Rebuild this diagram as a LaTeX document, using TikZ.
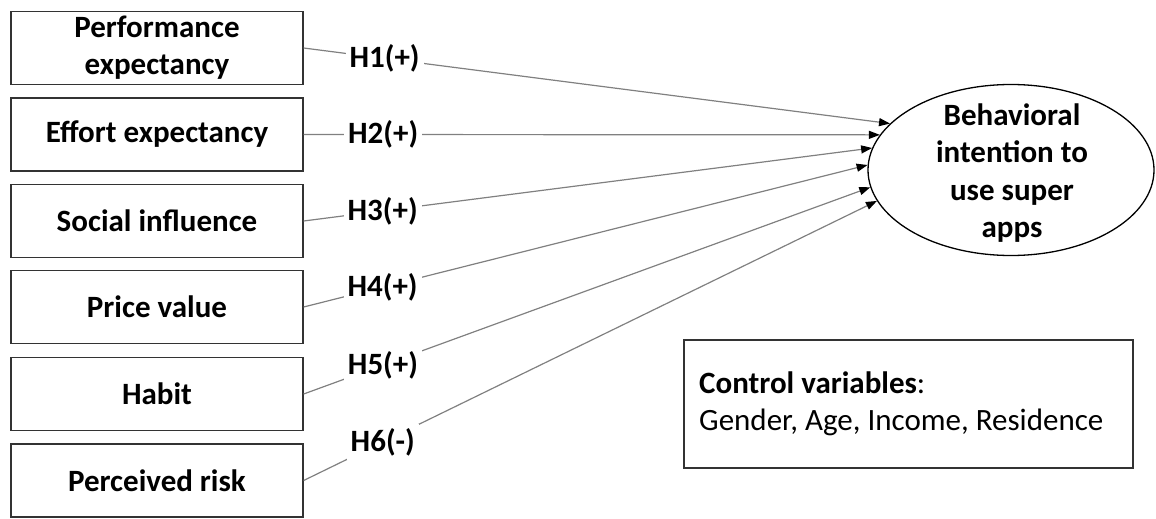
\documentclass[tikz,border=0pt]{standalone}
\usepackage{fontspec}
\setmainfont{Carlito}
\usetikzlibrary{shapes.geometric,arrows.meta}
\tikzset{
  factor/.style={draw=black!80, line width=1.3pt, rectangle, minimum width=292pt,
    minimum height=73pt, inner sep=0pt, align=center,
    font=\fontsize{31}{37}\selectfont\bfseries},
  outcome/.style={draw=black, line width=1.3pt, ellipse, minimum width=286pt,
    minimum height=171pt, inner sep=0pt},
  outcometext/.style={inner sep=0pt, align=center,
    font=\fontsize{31}{37.3}\selectfont\bfseries},
  hlab/.style={fill=white, inner sep=4pt, font=\fontsize{31}{36}\selectfont\bfseries},
  path/.style={draw=black!50, line width=1.2pt,
    -{Triangle[length=11pt,width=8pt,color=black]}},
}
\begin{document}
\begin{tikzpicture}[x=1pt,y=-1pt]
\useasboundingbox (0,0) rectangle (1156,519);
% predictors
\node[factor] (pe) at (157,48)    {Performance\\expectancy};
\node[factor] (ee) at (157,134.5) {Effort expectancy};
\node[factor] (si) at (157,221)   {Social influence};
\node[factor] (pv) at (157,307)   {Price value};
\node[factor] (hb) at (157,394)   {Habit};
\node[factor] (pr) at (157,480.5) {Perceived risk};
% outcome
\node[outcome] (bi) at (1011,170) {};
\node[outcometext] (bitext) at (1012,173) {Behavioral\\intention to\\use super\\apps};
% hypothesised paths
\draw[path] (pe.east) -- node[hlab,pos=0.138] {H1(+)} (bi.159.6);
\draw[path] (ee.east) -- node[hlab,pos=0.138] {H2(+)} (bi.165.4);
\draw[path] (si.east) -- node[hlab,pos=0.139] {H3(+)} (bi.171);
\draw[path] (pv.east) -- node[hlab,pos=0.14]  {H4(+)} (bi.178.8);
\draw[path] (hb.east) -- node[hlab,pos=0.14]  {H5(+)} (bi.187);
\draw[path] (pr.east) -- node[hlab,pos=0.138] {H6(-)} (bi.193.8);
% control variables
\node[draw=black!80, line width=1.3pt, minimum width=449pt, minimum height=128pt,
  inner sep=0pt] (cv) at (908.5,404) {};
\node[anchor=base west, inner sep=0pt, font=\fontsize{31}{36}\selectfont]
  (cvh) at (699,393) {\textbf{Control variables}:};
\node[anchor=base west, inner sep=0pt, font=\fontsize{31}{36}\selectfont]
  (cvl) at (699,430) {Gender, Age, Income, Residence};
\end{tikzpicture}
\end{document}
